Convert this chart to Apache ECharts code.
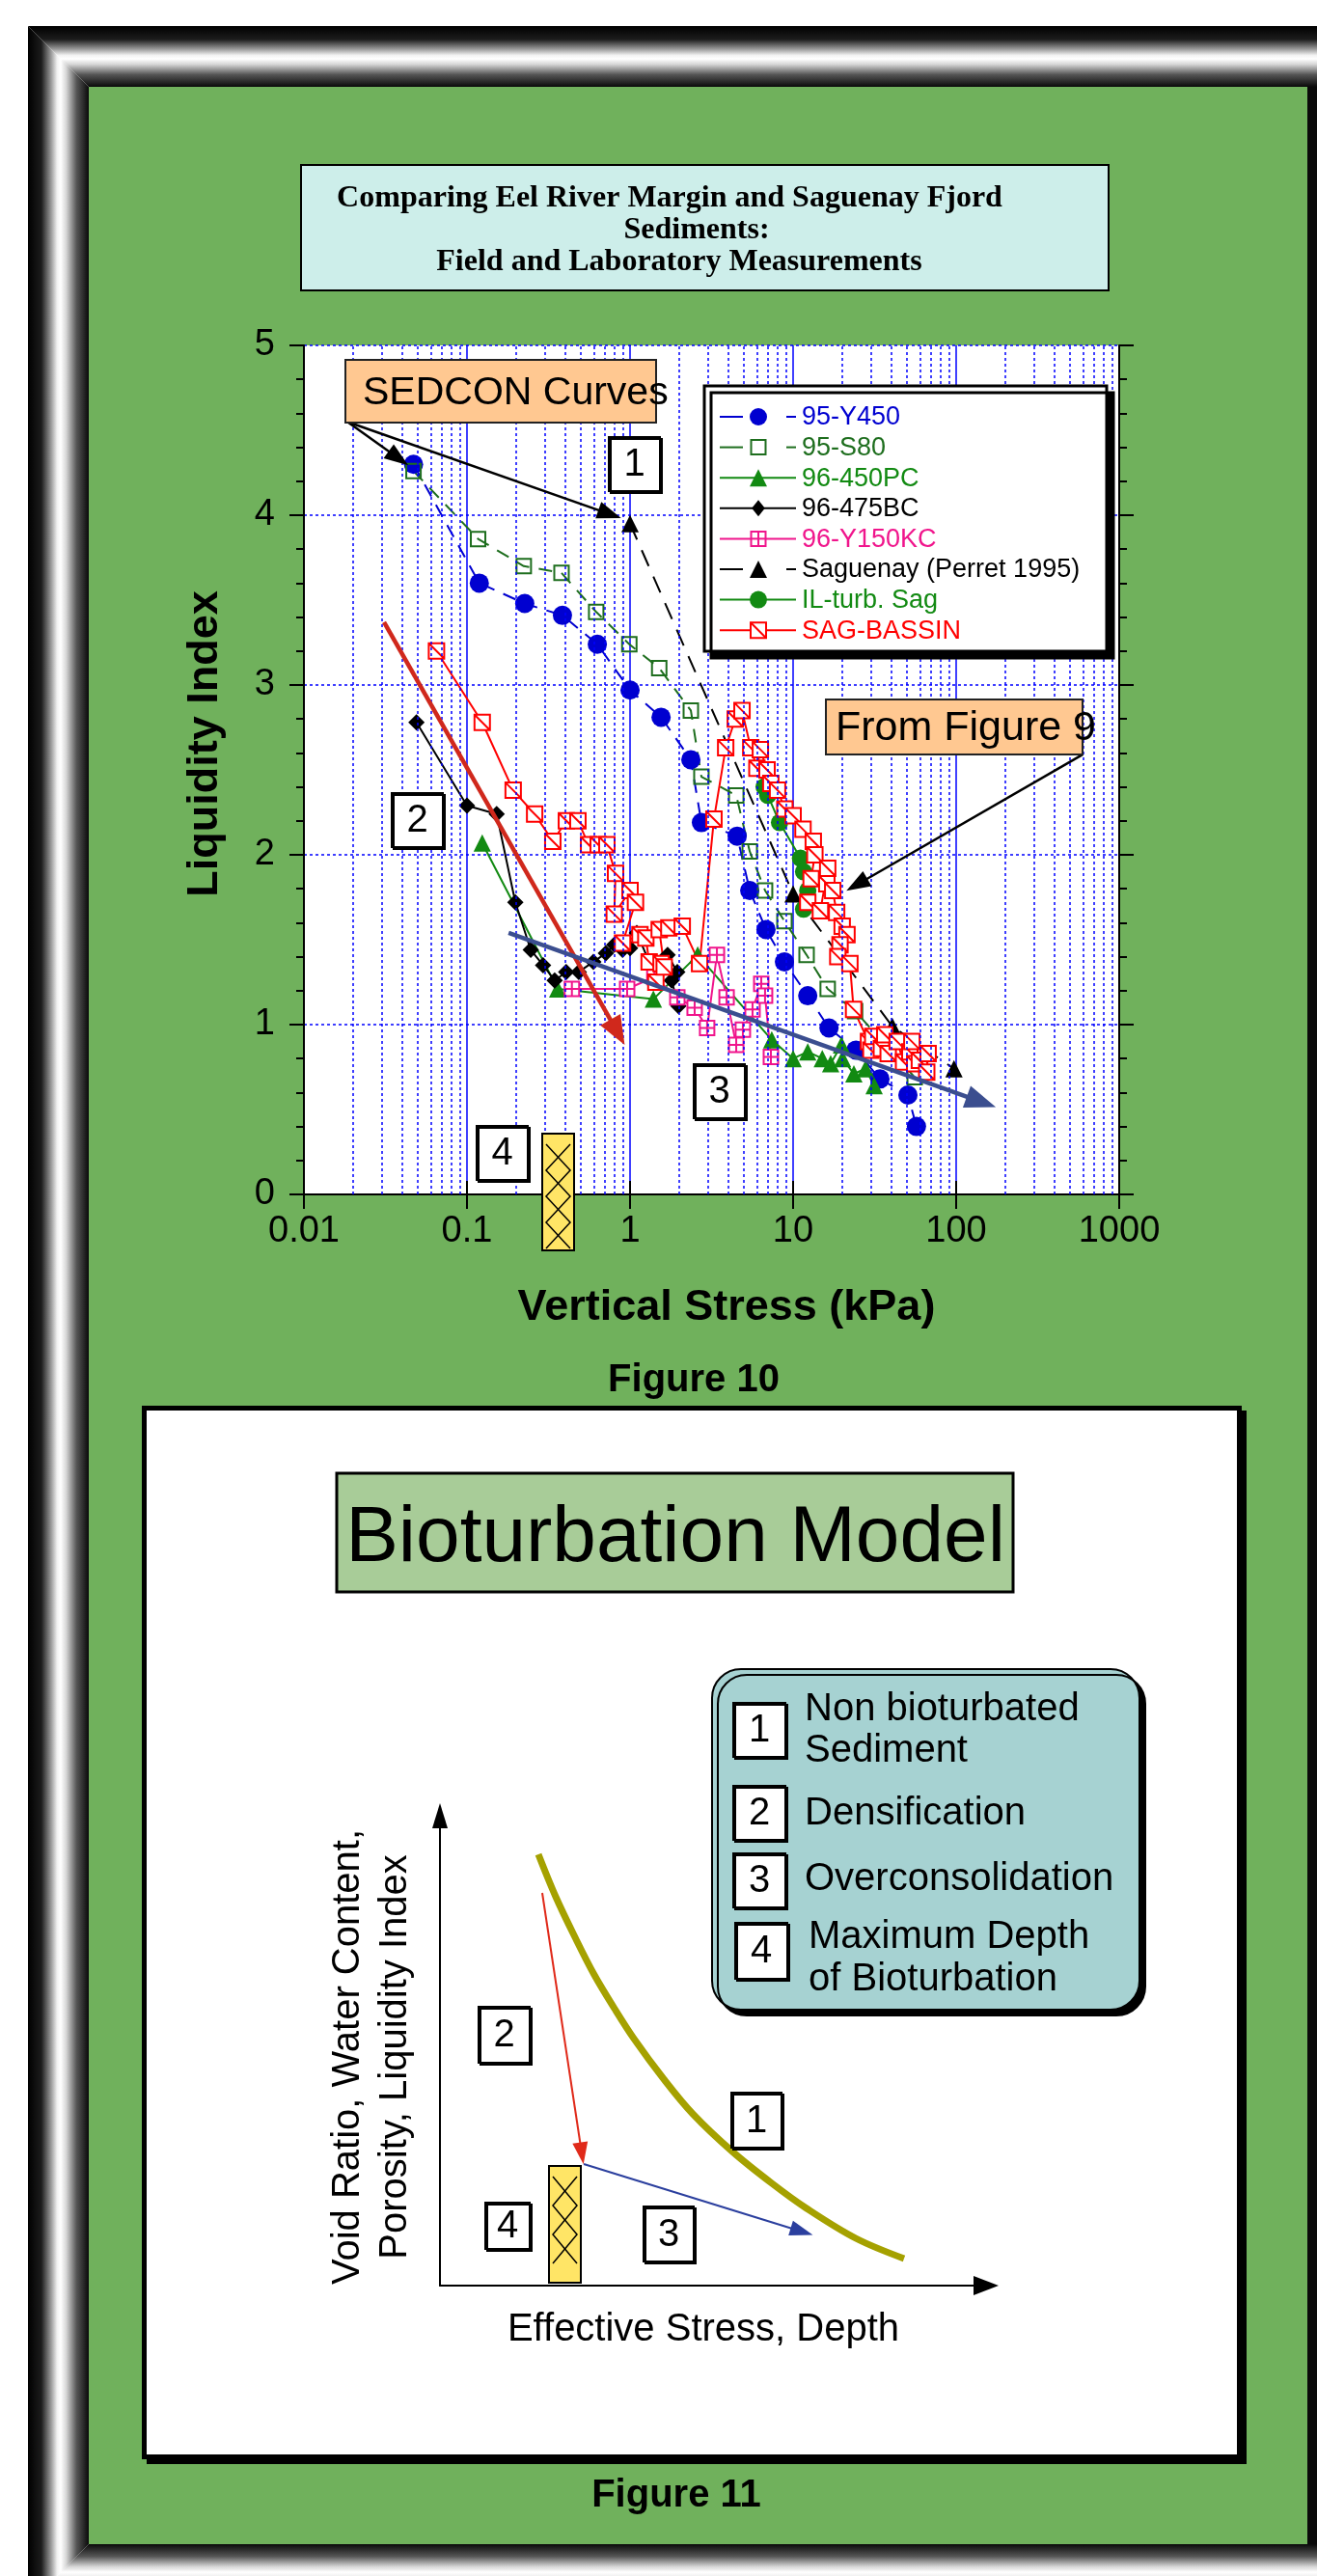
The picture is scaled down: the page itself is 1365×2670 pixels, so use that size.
<!DOCTYPE html>
<html><head><meta charset="utf-8">
<script src="https://cdn.jsdelivr.net/npm/echarts@6/dist/echarts.min.js"></script>
<style>
html,body{margin:0;padding:0;background:#fff;}
#page{position:relative;width:1365px;height:2670px;overflow:hidden;background:#fff;}
.bg{position:absolute;}
#ftop{left:29px;top:27px;width:1336px;height:63px;background:linear-gradient(to bottom,#000 0%,#1c1c1c 22%,#9a9a9a 38%,#f2f2f2 48%,#fff 54%,#d6d6d6 63%,#555 80%,#0a0a0a 100%);clip-path:polygon(0 0,100% 0,100% 100%,63px 100%);}
#fleft{left:29px;top:27px;width:63px;height:2643px;background:linear-gradient(to right,#000 0%,#1c1c1c 22%,#9a9a9a 38%,#f2f2f2 48%,#fff 54%,#d6d6d6 63%,#555 80%,#0a0a0a 100%);clip-path:polygon(0 0,63px 63px,63px 2610px,30px 2643px,0 2643px);}
#fbottom{left:29px;top:2637px;width:1336px;height:63px;background:linear-gradient(to top,#000 0%,#1c1c1c 22%,#9a9a9a 38%,#f2f2f2 48%,#fff 54%,#d6d6d6 63%,#555 80%,#0a0a0a 100%);clip-path:polygon(63px 0,100% 0,100% 100%,0 100%);}
#fright{left:1355px;top:90px;width:10px;height:2547px;background:#0a0a0a;}
#green{left:92px;top:90px;width:1263px;height:2547px;background:#70b15c;}
#wbox{left:147px;top:1457px;width:1140px;height:1092px;box-sizing:border-box;background:#fff;border:5px solid #000;box-shadow:5px 5px 0 #000;}
#chart{position:absolute;left:0;top:0;width:1365px;height:2670px;}
</style></head><body>
<div id="page">
<div class="bg" id="green"></div>
<div class="bg" id="ftop"></div>
<div class="bg" id="fleft"></div>
<div class="bg" id="fbottom"></div>
<div class="bg" id="fright"></div>
<div class="bg" id="wbox"></div>
<div id="chart"></div>
</div>
<script>
// ---------------- Figure 10 data (Vertical stress kPa, Liquidity index) ----------------
const xTickLabels = ['0.01', '0.1', '1', '10', '100', '1000'];
const yTickLabels = ['0', '1', '2', '3', '4', '5'];
const seriesNames = ['95-Y450', '95-S80', '96-450PC', '96-475BC', '96-Y150KC', 'Saguenay (Perret 1995)', 'IL-turb. Sag', 'SAG-BASSIN'];

const y450 = [[0.047,4.30],[0.119,3.60],[0.226,3.48],[0.385,3.41],[0.63,3.24],[1.0,2.97],[1.55,2.81],[2.36,2.56],[2.74,2.19],[4.54,2.11],[5.42,1.79],[6.82,1.56],[8.85,1.37],[12.3,1.17],[16.6,0.98],[24.3,0.85],[34.1,0.68],[50.6,0.585],[57.1,0.40]];
const s80 = [[0.047,4.26],[0.117,3.86],[0.223,3.70],[0.38,3.66],[0.62,3.43],[0.99,3.24],[1.51,3.10],[2.36,2.85],[2.74,2.46],[4.48,2.35],[5.42,2.02],[6.73,1.79],[8.85,1.61],[12.1,1.41],[16.3,1.21],[24,1.08],[55.7,0.69]];
const pc450 = [[0.124,2.07],[0.36,1.21],[1.39,1.15],[2.6,1.41],[7.4,0.91],[10.0,0.80],[12.3,0.84],[15.1,0.80],[17.0,0.77],[19.8,0.88],[20.1,0.80],[23.6,0.71],[27.8,0.74],[31.4,0.64]];
const bc475 = [[0.049,2.78],[0.1,2.29],[0.152,2.24],[0.198,1.72],[0.246,1.44],[0.293,1.35],[0.345,1.26],[0.406,1.31],[0.485,1.31],[0.596,1.37],[0.711,1.42],[0.80,1.47],[0.90,1.44],[1.0,1.45],[1.1,1.54],[1.31,1.37],[1.70,1.41],[1.95,1.31],[1.8,1.26],[1.98,1.11]];
const kc150 = [[0.44,1.21],[0.96,1.21],[1.41,1.28],[1.95,1.16],[2.49,1.10],[2.97,0.98],[3.41,1.41],[3.91,1.16],[4.48,0.88],[4.92,0.97],[5.64,1.09],[6.38,1.24],[6.73,1.17],[7.31,0.81]];
const saguenay = [[1.0,3.95],[10,1.77],[40.6,0.99],[97,0.74]];
const ilTurb = [[6.64,2.40],[7.0,2.35],[8.26,2.19],[11.1,1.98],[11.6,1.90],[12.3,1.79],[11.6,1.68]];
const sagBassin = [[0.065,3.20],[0.124,2.78],[0.192,2.38],[0.26,2.24],[0.336,2.08],[0.407,2.20],[0.479,2.20],[0.557,2.06],[0.638,2.06],[0.721,2.06],[0.815,1.89],[0.80,1.65],[1.0,1.79],[1.08,1.72],[0.90,1.48],[1.15,1.53],[1.25,1.51],[1.31,1.37],[1.44,1.25],[1.55,1.36],[1.62,1.34],[1.51,1.56],[1.73,1.57],[2.09,1.58],[2.67,1.36],[3.27,2.21],[3.86,2.63],[4.42,2.80],[4.86,2.85],[5.5,2.63],[6.0,2.51],[6.3,2.62],[6.92,2.50],[7.3,2.42],[8.03,2.38],[8.9,2.27],[10,2.23],[11.5,2.15],[13.3,2.08],[13.6,2.0],[12.9,1.86],[12.3,1.72],[14.7,1.67],[16.3,1.92],[16.1,1.83],[17.5,1.79],[18.5,1.66],[20,1.58],[21.4,1.53],[19.4,1.47],[18.8,1.40],[22.3,1.36],[23.5,1.09],[29,0.90],[30,0.85],[30.8,0.93],[34.8,0.86],[36.5,0.94],[38.3,0.83],[43.5,0.90],[47.6,0.78],[52,0.84],[53.5,0.90],[55.7,0.77],[59.5,0.79],[67.3,0.83],[66,0.72]];

// minor (dotted) vertical grid values
const minorGridX = [];
[0.01, 0.1, 1, 10, 100].forEach(d => { for (let k = 2; k <= 9; k++) minorGridX.push(+(d * k).toPrecision(3)); });

// annotation arrows in data coordinates [from, to]
const sedconArrows = [[[0.0185, 4.55], [0.038, 4.335]], [[0.0185, 4.55], [0.751, 4.006]]];
const fig9Arrow = [[596, 2.59], [24.6, 1.824]];
const densArrow = [[0.031, 3.37], [0.838, 0.955]];
const overArrow = [[0.18, 1.54], [142.6, 0.545]];

// ---------------- Figure 11 (conceptual diagram units) ----------------
const modelCurve = [[102,447],[120,403],[140,361],[160,322],[181,287],[201,256],[232,214],[262,178],[303,139],[344,106],[380,80],[431,49],[481,28]];
const modelDensArrow = [[106,407],[147,137]];
const modelOverArrow = [[149,126],[375,56]];

const FONT = '"Liberation Sans", Arial, Helvetica, sans-serif';
const SERIF = '"Liberation Serif", "Times New Roman", serif';

const chart = echarts.init(document.getElementById('chart'), null, {renderer: 'canvas', width: 1365, height: 2670});

const SQ = 'path://M0,0H10V10H0Z';
const SQ_CROSS = 'path://M0,0H10V10H0Z M5,0V10 M0,5H10';
const SQ_DIAG = 'path://M0,0H10V10H0Z M0,0L10,10';

// per-series styles: [color, dash, marker, size, fill]
const seriesStyles = [
  ['#0000d0', [14, 10], 'circle', 20, null],
  ['#1e6e1e', [14, 10], 'square', 15, 'rgba(0,0,0,0)'],
  ['#128a12', null, 'triangle', 18, null],
  ['#000000', null, 'diamond', 17, null],
  ['#f0158c', null, 'sqcross', 15, '#ffffff'],
  ['#000000', [18, 12], 'triangle', 18, null],
  ['#128a12', null, 'circle', 18, null],
  ['#ff0000', null, 'sqdiag', 16, '#ffffff']
];
const echartsSymbol = {circle: 'circle', square: SQ, triangle: 'triangle', diamond: 'diamond', sqcross: SQ_CROSS, sqdiag: SQ_DIAG};

function dataSeries(i, data) {
  const [color, dash, marker, size, fill] = seriesStyles[i];
  const border = !!fill;
  return {
    name: seriesNames[i], type: 'line', data, xAxisIndex: 0, yAxisIndex: 0, z: 2,
    symbol: echartsSymbol[marker], symbolSize: size, showAllSymbol: true,
    lineStyle: {color, width: 2, type: dash || 'solid'},
    itemStyle: {color: fill || color, borderColor: border ? color : undefined, borderWidth: border ? 2 : 0},
    emphasis: {disabled: true}, animation: false
  };
}

function arrowLine(from, to, color, width, head) {
  return [{coord: from, symbol: 'none', lineStyle: {color, width, type: 'solid'}},
          {coord: to, symbol: 'triangle', symbolSize: head}];
}

const G = [];
function rect(x1, y1, x2, y2, fill, stroke, lw, extra) {
  G.push({type: 'rect', z: 10, silent: true, shape: {x: x1, y: y1, width: x2 - x1, height: y2 - y1, r: (extra && extra.r) || 0},
    style: Object.assign({fill, stroke, lineWidth: lw}, (extra && extra.style) || {})});
}
function text(str, x, y, size, opts) {
  opts = opts || {};
  G.push({type: 'text', z: 11, silent: true, x, y, rotation: opts.rotation || 0,
    style: {text: str, x: 0, y: 0, fill: opts.color || '#000', fontSize: size, fontFamily: opts.family || FONT,
      fontWeight: opts.weight || 'normal', align: opts.align || 'center', verticalAlign: 'middle',
      textAlign: opts.align || 'center', textVerticalAlign: 'middle'}});
}
function numBox(n, x1, y1, x2, y2, size) {
  rect(x1, y1, x2, y2, '#fff', '#000', 2, {style: {shadowColor: '#000', shadowOffsetX: 2, shadowOffsetY: 2, shadowBlur: 0}});
  text(n, (x1 + x2) / 2, (y1 + y2) / 2 + 1, size || 40);
}
function hatchBar(x1, y1, x2, y2, startY, step) {
  rect(x1, y1, x2, y2, '#ffe566', '#000', 2);
  const a = [], b = [];
  let i = 0;
  for (let y = startY; y <= y2 + 0.1; y += step, i++) {
    a.push([i % 2 ? x1 + 4 : x2 - 4, y]);
    b.push([i % 2 ? x2 - 4 : x1 + 4, y]);
  }
  [a, b].forEach(p => G.push({type: 'polyline', z: 11, silent: true, shape: {points: p}, style: {stroke: '#000', lineWidth: 1.5, fill: null}}));
}
function seg(x1, y1, x2, y2, color, lw, dash) {
  G.push({type: 'line', z: 12, silent: true, shape: {x1, y1, x2, y2}, style: {stroke: color, lineWidth: lw, lineDash: dash || null}});
}
function marker(kind, cx, cy, size, color, fill) {
  const h = size / 2;
  if (kind === 'circle') {
    G.push({type: 'circle', z: 13, silent: true, shape: {cx, cy, r: h}, style: {fill: color}});
  } else if (kind === 'triangle') {
    G.push({type: 'polygon', z: 13, silent: true, shape: {points: [[cx, cy - h], [cx + h, cy + h], [cx - h, cy + h]]}, style: {fill: color}});
  } else if (kind === 'diamond') {
    G.push({type: 'polygon', z: 13, silent: true, shape: {points: [[cx, cy - h], [cx + h * 0.8, cy], [cx, cy + h], [cx - h * 0.8, cy]]}, style: {fill: color}});
  } else {
    G.push({type: 'rect', z: 13, silent: true, shape: {x: cx - h, y: cy - h, width: size, height: size}, style: {fill: fill, stroke: color, lineWidth: 2}});
    if (kind === 'sqcross') { seg(cx, cy - h, cx, cy + h, color, 2); seg(cx - h, cy, cx + h, cy, color, 2); G[G.length - 1].z = 14; G[G.length - 2].z = 14; }
    if (kind === 'sqdiag') { seg(cx - h, cy - h, cx + h, cy + h, color, 2); G[G.length - 1].z = 14; }
  }
}

// --- Figure 10 title box
rect(312, 171, 1149, 301, '#cdeeea', '#000', 2);
text('Comparing Eel River Margin and Saguenay Fjord', 694, 206, 32, {family: SERIF, weight: 'bold'});
text('Sediments:', 722, 239, 32, {family: SERIF, weight: 'bold'});
text('Field and Laboratory Measurements', 704, 272, 32, {family: SERIF, weight: 'bold'});
// --- annotation boxes Figure 10
rect(358, 373, 680, 438, '#ffc891', '#222', 2);
text('SEDCON Curves', 376, 408, 41, {align: 'left'});
numBox('1', 631, 453, 684, 509, 40);
rect(856, 725, 1122, 782, '#ffc891', '#222', 2);
text('From Figure 9', 866, 755, 43, {align: 'left'});
numBox('2', 406, 822, 459, 878, 40);
numBox('3', 719, 1103, 772, 1159, 40);
numBox('4', 494, 1167, 547, 1223, 40);
hatchBar(562, 1175, 595, 1296, 1186, 27);
text('Liquidity Index', 213, 771, 45, {weight: 'bold', rotation: Math.PI / 2});
text('Vertical Stress (kPa)', 753, 1356, 45, {weight: 'bold'});
text('Figure 10', 719, 1431, 40, {weight: 'bold'});

// --- Figure 10 legend (drawn box, line samples, markers, names)
rect(730, 400, 1147, 675, '#fff', '#000', 3, {style: {shadowColor: '#000', shadowOffsetX: 7, shadowOffsetY: 7, shadowBlur: 0}});
seriesNames.forEach((name, i) => {
  const [color, dash, kind, size, fill] = seriesStyles[i];
  const cy = 432 + i * 31.6;
  if (dash) {
    seg(746, cy, 770, cy, color, 2); seg(815, cy, 825, cy, color, 2);
  } else {
    seg(746, cy, 825, cy, color, 2);
  }
  marker(kind, 786, cy, Math.min(size, 18), color, fill);
  text(name, 831, cy + 1, 27, {align: 'left', color});
});

// --- Figure 11
rect(349, 1527, 1050, 1650, '#a8cc98', '#000', 3);
text('Bioturbation Model', 700, 1595, 82);
rect(738, 1730, 1181, 2083, '#a6d2d2', '#000', 2, {r: 30, style: {shadowColor: '#000', shadowOffsetX: 6, shadowOffsetY: 6, shadowBlur: 0}});
numBox('1', 760, 1765, 814, 1821, 40);
numBox('2', 760, 1851, 814, 1907, 40);
numBox('3', 760, 1921, 814, 1977, 40);
numBox('4', 762, 1993, 816, 2051, 40);
text('Non bioturbated', 834, 1772, 40, {align: 'left'});
text('Sediment', 834, 1815, 40, {align: 'left'});
text('Densification', 834, 1880, 40, {align: 'left'});
text('Overconsolidation', 834, 1948, 40, {align: 'left'});
text('Maximum Depth', 838, 2008, 40, {align: 'left'});
text('of Bioturbation', 838, 2052, 40, {align: 'left'});
numBox('2', 496, 2080, 549, 2138, 40);
numBox('1', 758, 2169, 810, 2226, 40);
numBox('4', 503, 2283, 549, 2331, 40);
numBox('3', 667, 2287, 719, 2344, 40);
hatchBar(569, 2245, 602, 2366, 2256, 30);
text('Void Ratio, Water Content,', 361, 2132, 40, {rotation: Math.PI / 2});
text('Porosity, Liquidity Index', 410, 2132, 40, {rotation: Math.PI / 2});
text('Effective Stress, Depth', 729, 2415, 40);
text('Figure 11', 701, 2587, 40, {weight: 'bold'});

const axisBlack = {color: '#000', width: 2};

const option = {
  backgroundColor: 'transparent',
  animation: false,
  grid: [
    {left: 315, top: 358, width: 845, height: 880, show: true, backgroundColor: '#fff', borderWidth: 0},
    {left: 456, top: 1882, width: 566, height: 487, show: false}
  ],
  xAxis: [
    {gridIndex: 0, type: 'log', logBase: 10, min: 0.01, max: 1000, splitNumber: 5, position: 'bottom',
      axisLine: {show: true, lineStyle: axisBlack}, axisTick: {show: true, length: 15, lineStyle: axisBlack},
      minorTick: {show: false},
      axisLabel: {fontSize: 38, color: '#000', fontFamily: FONT, margin: 20,
        formatter: v => { const i = Math.round(Math.log10(v)) + 2; return xTickLabels[i] || ''; }},
      splitLine: {show: true, lineStyle: {color: '#0000ff', width: 1.5}}},
    {gridIndex: 0, type: 'log', logBase: 10, min: 0.01, max: 1000, splitNumber: 5, position: 'top',
      axisLine: {show: false}, axisTick: {show: true, length: 14, lineStyle: axisBlack},
      axisLabel: {show: false}, splitLine: {show: false}},
    {gridIndex: 1, type: 'value', min: 0, max: 566,
      axisLine: {show: true, symbol: ['none', 'triangle'], symbolSize: [20, 26], lineStyle: axisBlack},
      axisTick: {show: false}, axisLabel: {show: false}, splitLine: {show: false}}
  ],
  yAxis: [
    {gridIndex: 0, type: 'value', min: 0, max: 5, interval: 1, position: 'left',
      axisLine: {show: true, lineStyle: axisBlack}, axisTick: {show: true, length: 15, lineStyle: axisBlack},
      minorTick: {show: true, splitNumber: 5, length: 8, lineStyle: axisBlack},
      axisLabel: {fontSize: 38, color: '#000', fontFamily: FONT, margin: 30, formatter: v => yTickLabels[Math.round(v)]},
      splitLine: {show: true, lineStyle: {color: '#0000ff', width: 1.5, type: [3, 3]}}},
    {gridIndex: 0, type: 'value', min: 0, max: 5, interval: 1, position: 'right',
      axisLine: {show: true, lineStyle: axisBlack}, axisTick: {show: true, length: 15, lineStyle: axisBlack},
      minorTick: {show: true, splitNumber: 5, length: 8, lineStyle: axisBlack},
      axisLabel: {show: false}, splitLine: {show: false}},
    {gridIndex: 1, type: 'value', min: 0, max: 487,
      axisLine: {show: true, symbol: ['none', 'triangle'], symbolSize: [16, 26], lineStyle: axisBlack},
      axisTick: {show: false}, axisLabel: {show: false}, splitLine: {show: false}}
  ],
  legend: {show: false},
  graphic: {elements: G},
  series: [
    {type: 'line', name: 'minor-grid', xAxisIndex: 0, yAxisIndex: 0, z: 1, data: [[1, -1]], symbol: 'none',
      lineStyle: {width: 0}, silent: true,
      markLine: {silent: true, symbol: ['none', 'none'], label: {show: false}, animation: false,
        lineStyle: {color: '#0000ff', width: 1.5, type: [3, 3]},
        data: minorGridX.map(v => ({xAxis: v}))}},
    dataSeries(0, y450),
    dataSeries(1, s80),
    dataSeries(2, pc450),
    dataSeries(3, bc475),
    dataSeries(4, kc150),
    dataSeries(5, saguenay),
    dataSeries(6, ilTurb),
    dataSeries(7, sagBassin),
    {type: 'line', name: 'arrows10', xAxisIndex: 0, yAxisIndex: 0, z: 3, data: [[1, -1]], symbol: 'none',
      lineStyle: {width: 0}, silent: true,
      markLine: {silent: true, label: {show: false}, animation: false,
        data: [
          arrowLine(sedconArrows[0][0], sedconArrows[0][1], '#000', 2.5, [18, 25]),
          arrowLine(sedconArrows[1][0], sedconArrows[1][1], '#000', 2.5, [18, 25]),
          arrowLine(fig9Arrow[0], fig9Arrow[1], '#000', 2.5, [18, 25]),
          arrowLine(densArrow[0], densArrow[1], '#d0281c', 4.5, [24, 30]),
          arrowLine(overArrow[0], overArrow[1], '#3b4e8f', 4.5, [24, 32])
        ]}},
    {type: 'line', name: 'model-curve', xAxisIndex: 2, yAxisIndex: 2, data: modelCurve, smooth: 0.35,
      symbol: 'none', lineStyle: {color: '#a5a100', width: 7, cap: 'butt', join: 'round'}, silent: true},
    {type: 'line', name: 'arrows11', xAxisIndex: 2, yAxisIndex: 2, z: 3, data: [[0, -10]], symbol: 'none',
      lineStyle: {width: 0}, silent: true,
      markLine: {silent: true, label: {show: false}, animation: false,
        data: [
          arrowLine(modelDensArrow[0], modelDensArrow[1], '#e02a1a', 2, [16, 23]),
          arrowLine(modelOverArrow[0], modelOverArrow[1], '#2b3f9e', 2, [16, 24])
        ]}}
  ]
};
chart.setOption(option);
</script>
</body></html>
